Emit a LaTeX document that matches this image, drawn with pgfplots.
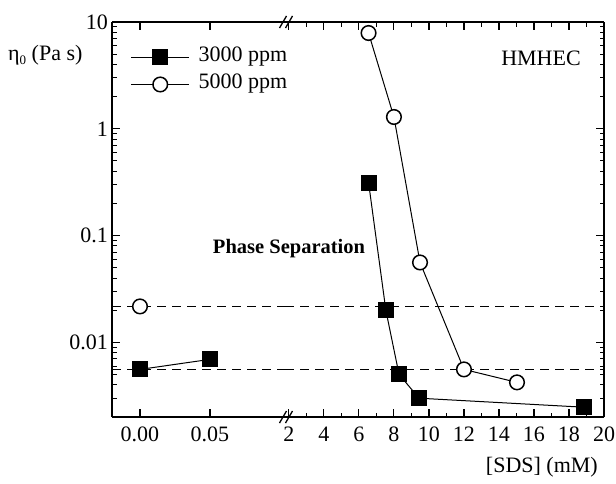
\documentclass[border=0pt]{standalone}
\usepackage{fontspec}
\setmainfont{Liberation Serif}
\usepackage{pgfplots}
\pgfplotsset{compat=1.18}

\tikzset{
  guide/.style={black, line width=1pt, dash pattern=on 9pt off 6pt},
  sqseries/.style={black, line width=1pt, mark=square*, mark size=7.5pt,
    mark options={solid, line width=1pt, fill=black}},
  ciseries/.style={black, line width=1pt, mark=*, mark size=7.3pt,
    mark options={solid, line width=1.5pt, draw=black, fill=white}},
  tickline/.style={black, line width=1.1pt},
}

% inward tick marks along the frame of each axis part
\newcommand{\ytickmarks}[3]{% #1 = x of the edge, #2 = direction (1 or -1), #3 = extra
  \pgfplotsinvokeforeach{0.01,0.1,1}{\draw[tickline] (axis cs:#1,##1) -- ++(#2*8pt,0pt);}
  \pgfplotsinvokeforeach{0.002,0.003,0.004,0.005,0.006,0.007,0.008,0.009,
    0.02,0.03,0.04,0.05,0.06,0.07,0.08,0.09,
    0.2,0.3,0.4,0.5,0.6,0.7,0.8,0.9,
    2,3,4,5,6,7,8,9}{\draw[tickline] (axis cs:#1,##1) -- ++(#2*4.5pt,0pt);}
}

\begin{document}
\begin{tikzpicture}
\useasboundingbox (0pt,0pt) rectangle (616pt,483pt);

% low-concentration part of the SDS axis
\begin{axis}[
  scale only axis, anchor=south west, height=395pt,
  ymode=log, ymin=0.002, ymax=10,
  log ticks with fixed point,
  line width=1.5pt,
  every tick/.append style={black, line width=1.1pt},
  tick label style={font=\fontsize{22}{26}\selectfont},
  xticklabel style={yshift=-6pt},
  /pgf/number format/assume math mode=true,
  at={(112pt,66pt)}, width=173pt,
  xmin=-0.02, xmax=0.1036,
  xtick={0,0.05}, xticklabels={0.00,0.05},
  axis y line*=left,
  legend style={draw=none, fill=none, at={(axis description cs:0.104,0.876)},
    anchor=west, row sep=6pt, inner sep=0pt,
    font=\fontsize{22}{26}\selectfont,
    nodes={inner sep=1pt, text height=14pt, text depth=5pt}},
  legend cell align=left,
  legend image code/.code={\path (0pt,0pt) (66pt,0pt);
    \draw[overlay, mark repeat=2, mark phase=2, #1]
    plot coordinates {(0pt,0pt) (29pt,0pt) (58pt,0pt)};},
]
\addplot[guide, forget plot] coordinates {(-0.02,0.0215) (0.1036,0.0215)};
\addplot[guide, forget plot] coordinates {(-0.02,0.0056) (0.1036,0.0056)};
\addplot[sqseries] coordinates {(0,0.00558) (0.05,0.00693)};
\addlegendentry{3000 ppm}
\addplot[ciseries] coordinates {(0,0.0217)};
\addlegendentry{5000 ppm}
\ytickmarks{-0.02}{1}{}
\pgfplotsinvokeforeach{0,0.05}{
  \draw[tickline] (axis cs:#1,0.002) -- ++(0pt,8pt);
  \draw[tickline] (axis cs:#1,10) -- ++(0pt,-8pt);
}
\end{axis}

% micellar part of the SDS axis
\begin{axis}[
  scale only axis, anchor=south west, height=395pt,
  ymode=log, ymin=0.002, ymax=10,
  line width=1.5pt,
  every tick/.append style={black, line width=1.1pt},
  tick label style={font=\fontsize{22}{26}\selectfont},
  xticklabel style={yshift=-6pt},
  /pgf/number format/assume math mode=true,
  at={(285pt,66pt)}, width=319pt,
  xmin=1.777, xmax=20,
  xtick={2,4,...,20}, minor xtick={3,5,...,19},
  axis y line*=right, yticklabels={},
]
\addplot[guide] coordinates {(1.777,0.0215) (20,0.0215)};
\addplot[guide] coordinates {(1.777,0.0056) (20,0.0056)};
\addplot[sqseries] coordinates {(6.55,0.314) (7.54,0.0199) (8.29,0.00502) (9.43,0.00300) (18.86,0.00247)};
\addplot[ciseries] coordinates {(6.55,7.89) (8.0,1.29) (9.49,0.056) (12.0,0.00558) (15.03,0.00422)};
\ytickmarks{20}{-1}{}
\pgfplotsinvokeforeach{2,4,6,8,10,12,14,16,18}{
  \draw[tickline] (axis cs:#1,0.002) -- ++(0pt,8pt);
  \draw[tickline] (axis cs:#1,10) -- ++(0pt,-8pt);
}
\pgfplotsinvokeforeach{3,5,7,9,11,13,15,17,19}{
  \draw[tickline] (axis cs:#1,0.002) -- ++(0pt,4.5pt);
  \draw[tickline] (axis cs:#1,10) -- ++(0pt,-4.5pt);
}
\node[font=\fontsize{22}{26}\selectfont] at (axis cs:16.4,4.6) {HMHEC};
\end{axis}

% axis break marks
\foreach \xb in {283,289} {
  \draw[line width=1.3pt] (\xb pt-3.5pt,60pt) -- (\xb pt+3.5pt,72pt);
  \draw[line width=1.3pt] (\xb pt-3.5pt,455pt) -- (\xb pt+3.5pt,467pt);
}

% annotations and axis titles
\node[font=\bfseries\fontsize{20.5}{24}\selectfont] at (289pt,234pt) {Phase Separation};
\node[anchor=west, font=\fontsize{22}{26}\selectfont, inner sep=0pt] at (8pt,428pt)
  {η\raisebox{-0.45ex}{\fontsize{13}{15}\selectfont 0} (Pa s)};
\node[anchor=east, font=\fontsize{22}{26}\selectfont, inner sep=0pt] at (598pt,16pt)
  {[SDS] (mM)};
\end{tikzpicture}
\end{document}
